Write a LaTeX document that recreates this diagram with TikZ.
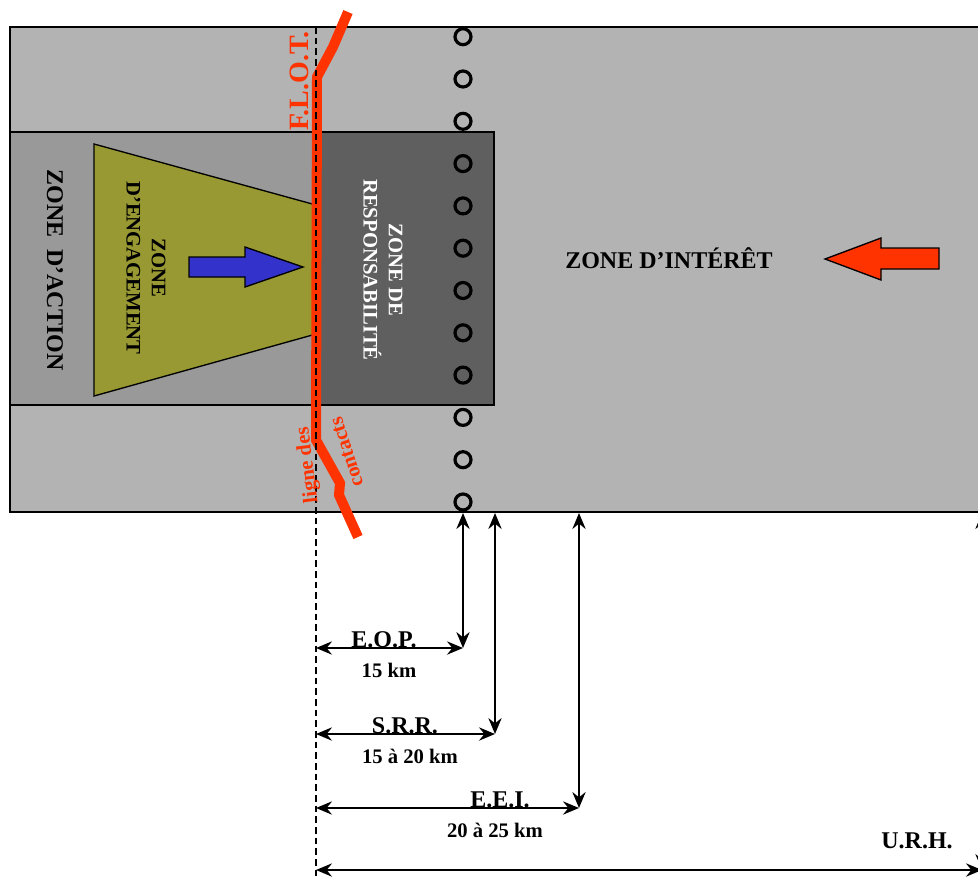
\documentclass[tikz,border=0pt]{standalone}
\usepackage{fontspec}
\setmainfont{Liberation Serif}
\usepackage{tikz}
\usetikzlibrary{arrows.meta}

\definecolor{zoneint}{RGB}{179,179,179}
\definecolor{zoneact}{RGB}{153,153,153}
\definecolor{zoneresp}{RGB}{95,95,95}
\definecolor{zoneeng}{RGB}{153,153,51}
\definecolor{flotred}{RGB}{255,51,0}
\definecolor{amiblue}{RGB}{51,51,204}

\begin{document}
\begin{tikzpicture}[x=0.75pt,y=0.75pt,yscale=-1,xscale=1,
    zonebox/.style={draw=black,line width=1pt},
    bigarrow/.style={draw=black,line width=1pt},
    cote/.style={line width=1.1pt,{Stealth[length=12pt,width=10pt,inset=4pt]}-{Stealth[length=12pt,width=10pt,inset=4pt]}},
    sigle/.style={inner sep=0pt,font=\fontsize{18}{21}\selectfont\bfseries},
    km/.style={inner sep=0pt,font=\fontsize{15.5}{18}\selectfont\bfseries},
    zonetext/.style={inner sep=0pt,align=center,font=\fontsize{15.5}{19}\selectfont\bfseries},
    redtext/.style={inner sep=0pt,text=flotred,font=\fontsize{15.5}{18}\selectfont\bfseries}]
    \useasboundingbox (0,0) rectangle (978,879);
    \clip (0,0) rectangle (978,879);

    %Shape: Rectangle [zone d'interet]
    \draw [zonebox,fill=zoneint] (10,27) rectangle (1000,512);
    %Shape: Rectangle [zone d'action]
    \draw [zonebox,fill=zoneact] (10,132) rectangle (316,405);
    %Shape: Rectangle [zone de responsabilite]
    \draw [zonebox,fill=zoneresp] (316,132) rectangle (494,405);
    %Shape: Trapezoid [zone d'engagement]
    \draw [zonebox,fill=zoneeng] (94,144) -- (316,205) -- (316,334) -- (94,396) -- cycle;

    %Shape: Right Arrow
    \draw [bigarrow,fill=amiblue] (189,257) -- (245,257) -- (245,247) -- (303,267) -- (245,287) -- (245,277) -- (189,277) -- cycle;
    %Shape: Left Arrow
    \draw [bigarrow,fill=flotred] (939,248) -- (881,248) -- (881,238) -- (825,259) -- (881,280) -- (881,269) -- (939,269) -- cycle;

    %Shape: F.L.O.T. line
    \draw [flotred,line width=7.5pt] (348,12) -- (333,47) -- (317,77) -- (316,440) -- (340,483) -- (339,495) -- (358,537);
    %Shape: dashed reference line
    \coordinate (ref top) at (316,27);
    \coordinate (ref bot) at (316,879);
    \draw [line width=1pt,dash pattern=on 5pt off 3pt] (ref top) -- (ref bot);

    %Shape: Circles
    \foreach \i in {0,...,11}
        \draw [line width=2.4pt] (463,{36.7+42.3*\i}) circle [radius=8];

    % Text Node
    \node [zonetext,rotate=-90,font=\fontsize{18}{21}\selectfont\bfseries] (action) at (55,270) {ZONE~~D’ACTION};
    % Text Node
    \node [zonetext,rotate=-90] (engagement) at (146,268) {ZONE\\D’ENGAGEMENT};
    % Text Node
    \node [zonetext,rotate=-90,text=white] (responsabilite) at (383,270) {ZONE DE\\RESPONSABILITÉ};
    % Text Node
    \node [sigle,anchor=base] (interet) at (669,268) {ZONE D’INTÉRÊT};
    % Text Node
    \node [redtext,rotate=90,font=\fontsize{21}{24}\selectfont\bfseries] (flot) at (299,81) {F.L.O.T.};
    % Text Node
    \node [redtext,rotate=97] (lignedes) at (308,465) {ligne des};
    % Text Node
    \node [redtext,rotate=108] (contacts) at (347,452) {contacts};

    % Dimension points
    \coordinate (eop top) at (463,513);
    \coordinate (eop) at (463,648);
    \coordinate (eop start) at (316,648);
    \coordinate (srr top) at (495,513);
    \coordinate (srr) at (495,734);
    \coordinate (srr start) at (316,734);
    \coordinate (eei top) at (579,513);
    \coordinate (eei) at (579,808);
    \coordinate (eei start) at (316,808);
    \coordinate (urh top) at (982,513);
    \coordinate (urh) at (982,870);
    \coordinate (urh start) at (316,870);

    % Dimension arrows
    \draw [cote] (eop top) -- (eop);
    \draw [cote] (eop start) -- (eop);
    \draw [cote] (srr top) -- (srr);
    \draw [cote] (srr start) -- (srr);
    \draw [cote] (eei top) -- (eei);
    \draw [cote] (eei start) -- (eei);
    \draw [cote] (urh top) -- (urh);
    \draw [cote] (urh start) -- (urh);

    % Text Node
    \node [sigle,anchor=base] (eop lab) at (384,647) {E.O.P.};
    % Text Node
    \node [km] (eop km) at (389,670) {15 km};
    % Text Node
    \node [sigle,anchor=base] (srr lab) at (405,733) {S.R.R.};
    % Text Node
    \node [km] (srr km) at (410,756) {15 à 20 km};
    % Text Node
    \node [sigle,anchor=base] (eei lab) at (500,807) {E.E.I.};
    % Text Node
    \node [km] (eei km) at (495,830) {20 à 25 km};
    % Text Node
    \node [sigle] (urh lab) at (917,841) {U.R.H.};

\end{tikzpicture}
\end{document}
